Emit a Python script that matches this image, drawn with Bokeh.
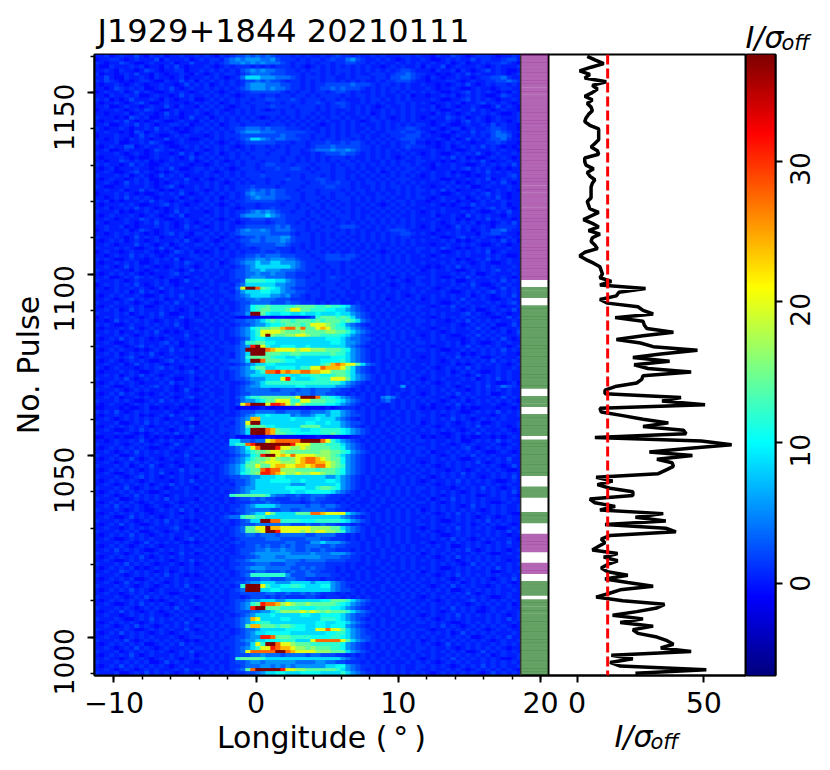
from math import pi

import numpy as np
from bokeh.embed import file_html
from bokeh.layouts import column, row
from bokeh.models import FixedTicker, Label, LinearColorMapper, Range1d, Span
from bokeh.plotting import figure
from bokeh.resources import INLINE

# one letter per cell, value of each letter below
level_chars = "abcdefghijklmnopqr"
level_values = [-1, -0.6, 0.3, 1.1, 2.2, 3.8, 5.5, 8.5, 10.5, 12, 14, 16.5, 20, 24, 27.5, 31, 34, 38]

# top row is pulse 1160, last row pulse 990: off-pulse left, on-pulse window, off-pulse right
cells = [
"ccdbcdccecbdcdbccdccd cdcbdcdeefefefedddcdcdccdcdeddcdccdcdcccddcd ccbdccedcbcdddcbccdc",
"bccddcbcdcccebdcccdbc dcddcefgfgggffgedddcdcddcdeddfgedccdcdcbcdcc dcbbcdcdccecddccdeec",
"dcbccedcbbcdcccdbccec ccdcdeffgfgfgfffedcddcdcddcddeeddcdcdccdcdcd ccdccdbcdbccdcddedcb",
"cbbdcccdcdbccbdcecbcc cdcbcdcdddcdcdcdddcdcbcdcdcdcdcdcdccbcdcdccd bdccebcdcccdcbcdcccd",
"ccdcbdccbcedcbccddbcc dcdcdcdcefgfgffeeddcdcddcdcdddcdcdcdcdcdeedc ccbdccdbdcbcdecdcbbc",
"dbccbcdceccbdcbccdcbd cbcdcddcdeffffeeedddcdcdcdcdcdcdccdddcdeefed dccbcbcdcecdcccdcbcd",
"ccecbbdccdcbdccbcdbcc cdcdcbcdfhhhgggfffedcdddcddccdcdddcddceeffed cbdcbccdccbcddeefdcc",
"dcedcbcbcddcbbdccecdb dcdcdcdcdeefefeedcddcdcdcddcdcdcdccdcddeeedc cbcccddcbcdccddeefed",
"cbccdcbcdcbccdccbcecd cdbcdcdcdfgggfffeeddcdcddeeeeefeeedcddcdcdcc dccbcbcdcecbcdcddcdc",
"ccbcedcdcdbbcdcecbcdc cdcdcdcdefgggfgffeddcdcdeefefeeedcdcdcddcdcc cdcbccdcbbcdccbcddcc",
"bcdccdbcecdcbbcdcdcbc dcdcbcdcddeeeeeedcdcddcddcdeedcdccdcdcdcdcdc dcdcbbccdecdcdcbcbdc",
"ccbdccdcdbbcdccbcecdc cdcdcdcbcdddcddcddcddcdcddddcdcddcdcdccdcdbc cbccdcdbcdcdcbbcedcc",
"dcdbcbcecccdcbdcbccdb bcdcdcdcddcddeedddedcdddcddcdcccdcddcdcdcdcc ccdcbbccdecdcdcbccdc",
"cbccdcbcdecbbcdcccbcd cdcdbcdcdcdddcddcdddcddedcdeedccdcdcdccddcdc dcbccdcdbccdecdcdcbc",
"ccdbbcdccbcdccecbdccb dcdcdcbcddcdddedddcddddcdcddedcdcdcbcdccdcdc ccdbcdcbccdcbbcecdcb",
"bcccdcbcdcedcbbcdcccd cdcdcbcdcdcdcbcdcddcdddcdcdccdcdcdccdcdcdcdc dcdcbbcdccecdcbcdccb",
"ccbcccdbcdccbcecdbccd cbcdcdcdcdcdddddcddcddcdccdcdccdcdbcdcdcdcdc ccbdcdcbcdccdcdcbbcd",
"dcccbcbedcdbbcdccbcec cdbcdcdcdcdcbcdcdcdcdcdcdcddcdccdcdcdcbcdcdc bcdccedcdbcdcbcdcccd",
"cbccdcecbcbcdcbbcdccb dcdcdcdcddcdddcdcdcdcdcdcdccdcdcbcddcdccdcdc ccbccdcbdecdcbcdcbcd",
"ccdbbcdcecdcbccddcdbc cdcdbcddcddddcdddcdcdcdcbcdcdcdcdccdcdcdcdcd dcbcdcbbcdccdcecdccb",
"dcbccdcbccdcecdcbcbcd dcdcdcdeefffefeeedddcdccdcdcdcdccdcdcdcddeed ccdcbcddbcdccdeedccb",
"ccdccbcbedbcdccdcbbcd cdcdcdcefgggfffeeeeeeddcdcdcdcdcdcdccdddedde dcbccdbcdcecddefedcc",
"bcccdccbcecdcbbcdcdcc cbcdcdddeeeeeeeefeedddcddcdcdcddcdccdcdddeee cdccbbcdccdcdceffecb",
"ccbcdcbdcdcbcceccdcbb cdcdcdcdefhhgfeffeeeddcdcddcddcdcdcdcdcdeeed dccdcbdbcecdcdeefdcc",
"dcccdbbccdcedcbbcdccc dcdcbcdcdeeeeeedddcddcdddeddedeedcdcdcdcddec cbcbcdcdccbccddedccb",
"cbcdcceebcdccdcbbcdcd cdcdcdcbcdcddcdcdcdddcdeeefeeeeeddcdccdcdedd dccbcdbcdcdcecdcbcbc",
"ccdbbcdcccbcedcdcbccd cbcdcdcdcdcdddcddcddcdefffgffgfeddcdcdcdcdcc ccdccdcbbcdcccdcdccb",
"dcccdcbcdcbcdccbcecdb cdcdbcdcdcdddcdddcddccdcdeeefeedcdcdcdccdcdc bcdcbbcdcdcecbcdccdc",
"cbcccdcbcbbcdccdcbcec dcdcdcdcddcdddddcddcdcdcdcdddcdccdcdcdcbcdcd ccdcdcecdbcbbcdcdcbc",
"ccbccedcdcdbcbcdcccdb cdcdcbcdcdddcdddcddcdcdcdcdcddcdcdccdcdcdccd dcccbcbcdcdcecbccdcc",
"dcdccbcecdcbbcdccdcbc cbcdcdcdcddcdeedddcdddcdddcdcddcdcdcdcdcddcd ccbdccdccbbcdcdcdcec",
"cbcdbcccdccbcdcecbbcd dcdcdcbcdddcdddeddeedcdcddcddcdcdccdcdcdcddc dcbcccdcdecdcdcbcbcc",
"ccdcbbcdecdcbcbcdcccd cdcbcdcdcdddcdddddddddcdddcddccdcdcdbcdcddcd ccdccdbcbbcdcecdcdcc",
"dcccdcdbcdcbcecdcdbcc cdcdcdcdcdddeddddcddcdddcdcddcdcdcdcdcdcdcdc bcdccdcdcbcbcdcccdec",
"cbcdccbcdcdbbcdcccecb dcbcdcdcdcdddcdddeddcddeedcddcdccdcdcdcdddcc ccdcbbcccdcdcebcdcdc",
"ccdcbcecdcdcbcbcdcdcc cdcdcbcdcdcddcddcddddcddeddeddcdcddcdcdcdcdc dcccdcdbcbcdccdcecbc",
"dcbbccdcccdcbcdecbccd cdcdcdcdddeddddcddddcddddeedddcdccdcdcddcdcd ccbccdcdcdbbcdcccdcc",
"ccdccdbccecdcbcbcdccd cbcdcdcddefefefeeddcdddcddddcdcddcdcdccdcdcd dcdcecdbcccdcbcdcdcb",
"bcccdcdcbcbbcdcdcecbc dcdcdcdcdfgffefeedddcddcddcddcdcdccdcdcdcdcd ccdcbbcdccdcdecdcbcc",
"ccbcdcecdcdcbcccdbcdc cdcdbcdcdefgfffeeeddcdddcdcdddcdcdcddcdccdcd dcbcdcccdbcdcdcecbcc",
"dcdbcbcccdcecdcbcdccb cdcdcdcddeeeeeeddcddcddcdcdcddcdcdcdcdcddcdc cbccdcdbccbcdcdcdccc",
"cbcccdcdcbbccdecdcbcc dcdcbcdcdddcddddcddcdcddcdcdcdccdcdcbcdcdcdc ccdcbcbcdcecdcccdbcc",
"ccdbccdcecdcbcbcdcdcd cdcdcdcbcddcddeddddcddcdcddcddcdcdcdcdcdcdcc dcccdcccbbcdcdecdcbc",
"dcccdbcbccdcdcbcecdcc cbcdcdcddefgfgfeddcddcdcdcddcdcdccdcdcdcdcdc bcdcdcccdcdcbbcdcecc",
"cbcdcccdcbcdcbcdcebcc cdcdcdcdfgggghgfeddddcddcdcdddcdcdcdcdcdccdc ccdbccdcbecdcdccbdcc",
"ccdcbcdccedcdcbbccdcc dcdcbcdcddeeedeeedddcdcddcdcddcdcddcdcdcdcdc dccdccdbcbcdcecdccbc",
"dcbcccdcbcdcecdcbcdcb cdcdcdcbcddddcdeeddcdcdcdddcdcdcdcdcdcdcdcdc ccdcbcdcdcdbccbcdcec",
"ccdccdbcbcccdcdcbcecd cbcdcdcddeeeeeefefdddcddcdcdeeedcdcdcdcddcdc bcdccbcecdccdcbddddc",
"bcdcccdbcedcbcdcccdcc cdcdcdcefgffgfefffeddcdcdddcdcdcdccdcdeeedcc ccdbcccdcdbcdceefdcc",
"ccbcdcdcdcbcbcdecdcbd dcdcdcdeffffffeeeedcddcdcdcddcdcdcdcdcddeedc dcbccdcdcccbddeedccb",
"dcccdcbcecdcdbcccdbcc cdcdbcdcdeefefffggedddcdcdcdcdccdcdcdcdcddcc ccdcbbcdecdcdccbcdcc",
"cbcdcdbcdcbcdcccdcecb cdcbcdcdeeffefffgfedddcdcddcdcdcdcdcdcdcdcdc dcccdcdbcbcdccdcecdb",
"ccdcbcccecdcbcdbcdccd dcdcdcdcdeeeeeeffeddcdcdcdcdcdcdcdcdccdcdcdc ccbccdccdcdcbbcdcbcc",
"dcccdcdcbbcdcecdbcdcc cdcdbcdcddcdeeedddcdcdcddcdcdcdccdcdcdcdcdcd dcdcedcbcbcdcdcccdcc",
"bcdccbcdccdcbcbcedcdb cbcdcdcdcdddeddeddcddcddcdcdccdcdcdcbcdcdccd ccdcbbcdcdcdcebcdccc",
"ccbcdccecdcdcbcdcccdd cdcdcdcddeefefffeeedddcddeeedeedcdcdcdcdcdcc dcbcdccdcdcccdcdcbbc",
"dcdcbbcdccbcdcdcebccd dcdcdcdeeffggfgggffedddcdeeeeedcdcddcdcdcdcc ccdcccdbcbcdcecdcdcc",
"cbccdcdcdbbcdcccdcedc cdcdbcdefgghgghhgggfedddcdddcdcdcdcdcdcdcdcc dcccdcdcdcbcdcbbcdcc",
"ccdcbcecdcdcbcbcdcdcb cdcdcdcdefghhhhhhhgfeddcdcddcddcdcdcdcdcdcdc cbcbcdcecdccdcdcccdc",
"dcccdccbdcbcdccdcbcec dcdcdcdeefgghgggfffeedddcdcdcdcdcdcdcdcdcdcd bcdccdcbbcdcdcdecdcc",
"cbcdcdcdcbcbcccdecdcc cdccdcdeeffgffgffeedddcdcdcdcdcddcdcdcdcdcdc ccdcccdcdcdbbcdcccdc",
"ccdbbcdcedcdcbcdccbcd cdcdccdeefgggffffeeddcddcdeddcdccddcdcbcdccd dcdcbbcdcecdcdccdcbc",
"dcccdcbcdcccdcdbbcecc dcdcccddejjjjiihhgfeedddcdddcdccdcdccdcdcbcd ccdcdcdbbcdcccdcecdc",
"bcdcdcdcecbcdcdcbcccd ccdcddcefhhhhhhggffeeddcdddcddccdcdcdcbcdccd dcdcccdcdcecbbcdcdcc",
"ccbcdccdcdcbcecdcdccb cdccdcdfmrrokjihgfedddcdcdddcdcccdcdcdccdcdc cdcbcdcdccdcdcbcecdc",
"dcccdcdbcecdcbcdcccdc dcdcddceghhhiihhgffeedddcdcddcdcdcdccdcdccdc dcccdcbbcdcdcdecdcdc",
"cbcdcdccdcbbcdcdcecdc cdcccddefghhhhggfgeedcddcddcdcccdcdcdccdcbcd ccdcdcdccdbcdcbcdcec",
"ccdcbcdecdcdcdbccdccd ccdcdcdeeffgfffeeedddcdccdcdcdccdcdcdbcdcdcd bcdcccdcecdcdcbbcdcc",
"dcccdcdcbcdcbcdcecdcb dcdcdccdeeffffeeefeedddcdcddcccdcdcdcdccdcdc ccdcbbcdcdcccdcdcdec",
"cbcdcccdcdbbcdcdcccdc cdcdcdcdefijjkjjjjjkkkkjjkjjihfedcdccdcdcdcd dcbcdcecdcdcdcdcbccd",
"ccdcdbcecdcccdcdcbcdc dccdcdcdefijkkjjjkmmkkjjjiihhgfedcdcdcdccdcd ccdcccdcbcdbbcdcdcec",
"dcccdcdbcdcdcecbbccdb cdccdcdeegrrkihhiihhihhihhhihhgfedcdcdccdcdc dcdcdcccdecdcbcdcbcc",
"bcdcdccdcbcdcdcccecdc cdcdcdcbabbabbabbabbbcejkkkjkjhfedcdcdcdcccd ccbcdcdcdcdcccbbcecd",
"ccbcecdcdcdcbcdcdcbcd dcdcdcdeeffghjkjkkjkkkjkjkkkjkjhfedcdcdccdcd dcdccbcdcecdcdcdccdc",
"dcdcbbcdccdcdcdcecbcc cdcccdcdeefgghiijkkkjkmmmlkjigfedcdcdcdcdccd ccdcccdcbcdcdcdbbcec",
"cbcccdcecbcdcdcccdbcd ccdcdcdefgijkkllnoolokkmnmkjjhgfedcdcdcdcdcc dcbcdcdccdcecdbcdccd",
"ccdcdbccdcdcecbcbcdcc dcdcdcdefghjmmmmlkkklkkkkllkkjhgfedcdcdcdcdc ccdcbcdcccdcdcdcdbce",
"dcccdcdcbcdcdcdcccecb cdccdcdefghjmrlkkllmmlkkjjjjihgfedcdccdcdcdc bcdcdcbbcdcecdcdcccd",
"cbcdcecdcdcbcbcdccdcc dcdcdccdefhiihhhhhhhhhhhhiiihgffeedcdcdcdccd ccdcdcccbcdcdcdcecbc",
"ccdcbbcdcdcccdecdbcdc cdcdcdcdfjjkkiihhhhhhhhhhhiihggfedcdcdcdcdcd dcdccdcdbcdcbbcdcdcc",
"dcccdcbcdecdcdcdcbccb ccdcdddefgprmjhhiiihhihhhhhhhgfedcdccdccdcdc ccbccdcdcecdcdcdcbcd",
"cbcdcdccbcbcdccecdcdc dcdccddefrrrronmmmmlmmlllkkkjigfedcdcdcdcdcd dcdcbbccdcdcdcdcecdc",
"ccdcdbcdcdcecbcdcccdc cdcdcdcefhrrrkkkjjkkjjjjjjkjjhgfedcdcdcdcdcc ccdcdccdbcbcdcdcdccb",
"dcccdcdecbcdcdccdcbcb dcdcddcefjkkkkjiihhihhhhhhiiihgfedcdcdcdcdcc bcdccdcecdcdbbcdcccd",
"cbcdcbcdcdcbbcdecdcdc ccdcddeefhrrokkkjiihhhhhiiiijhgfedcdccdcdcdc ccdcbcdcdcdcdcecdcdc",
"ccdccdbcecdcdcbcccdcd cdcdcdcdefghhiihhhhhhhhhjknonmmkhfedcdcdcdcc dcdcccdbcbcdcdcdcbcd",
"dcbcdcccbcdcdecdcbccb dcdcddeefgikkhhiiiihjjmmonnnmkhfedcdcdcdcdcc cdcbcdcdcecdcccdccdc",
"cbcccdcdcbbcdcccdcdec cdccdcdefgghjoopnonnoonnmmkkkjhfedcdccdcdcdc dcdccdbcdcdcbbcdcdcc",
"ccdcdbcdcecdcbcdcccdc dcdcdcdefghhhhhhhihhiijjiijkkjhgfedcdcdcdccd ccdccdcdcbcecdcdcdcc",
"dcccdcecbcdcdcdcbbcdb ccdcdcdeefggghhhmpihhhijjjmmmkhgfedcdcdcdcdc bcdcdcccdcdbcdcecdcc",
"cbcdcdcdcbcccdcecdcdc cdcdcdccdefghjjjjjjjjjjjjjjjhgfedcdcdcdccdcd cdcbcdcdcccdcdcbbcdb",
"ccdcbbcdcdcdecdcbccdc dcdcddcdefgghhhhhhhiihhhhhhggfedcdcdcdcdgcdc dcdccdcbcdcdcecdfedc",
"dcccdcbcdcdcccdcbcecb cdcccdcdefffffeefffeffefffeeddcdcdcdcdccdcdc ccdcdcdccbcdcdcdcdcc",
"cbcdcecdcbcbcdcdccdcc dcdccdcdeeffffffffefffeffeeddcdcdcdccdcdccdc bcdccdcecdcdcdbbcdcc",
"ccdcdbccdcdcccdcbcdec ccdcddcefhjjkkkkkkkmrrrojjihgfeddcdcfgfdcdcd cdccdcbcdcdcccdcecdc",
"dcccdcdcbbcdcecdcdccb cdcdcdcdfgghikkmmmjjmmkkkjjihgfedcdcefdcdcdc dcdcbcdcdbcdcdcdcdcb",
"cbcdccbcdcdcdcccdcbdc dcdcddcemorrrmppomkmkjjjjiihgfedcdcdccdcdcdc cdbccdcecdcdccdcbcdc",
"bbcccbcbbcdbbcbccbcbb cdcccdcabbabcbabbbbbbabbbcbcdddcdcdcccdcdcdc bcbccbcdbcbbcccbccbc",
"dcdcecbcdcdcccdcbcdcc dcdccdcdeeeffffeefffeefffghhgfeddcdcdccdcdcd ccdcdcdcbbcdcdcecdcd",
"cbccdcdcdbcbcdcecdccb ccdcdccdefghhihhhhfgffghhghhgfeedcdcdcdccdcd dcdcbcdcdcdcccbcdccd",
"ccdcbcdcdcdcdcbcccdec cdcdcddefgnnhhhhhhihhhhihhhgfedcdcdccdcdcdcd ccdcdcecdcbcdcdcdccc",
"dcccdbbcdcecdcdcdcbcb dcdcddcefmrrhhhhhhhhhiihhihhgfeedcdcdccdcdcd bcdccdcbcdcdbbcdcccd",
"cbcdcdcdcdcbcccdcdcec cdccdcdefkkkkiihhhhhkkkkhhhhgfedcdccdcdcdcdc cdcbcdcccdcecdcdcbcd",
"ccdcbbcdcecdcdcbcdcdc ccdcdddefhrrronkjjiihhiijjjjihgfedcdcdcdcdcc dcdcdcdcbcdcdcccdcbc",
"dcccdcdcbcbcdcdcecdcb dcdcdcdefhrrronkkjjiiiiijjkjihgfedcdccdcdcdc ccdcbbcdcdcecdcdcdcc",
"bbccbcbbcdbcbcbcbbcbd cdcdccdbabbabcbabbbbabbcbabbbbccdcdcdccdcdcd bcbccbcdbcbbccbcbcdc",
"ccbcdccdcecbcdcdcdccd dcdcdchhffeffmnooooorrrromjhgfedcdcdcdcdcdcd dcdccdcdbbcdcdcecdcc",
"dcccdcbcdcdcdcbcecbcd cdcdcdhjjoprrrrrrrpmmmkkkjjjhgfedcdcdcdcdcdc ccdcdcbcdcdcccdcbcdc",
"cbcdcdcdcdcbbccdcccdc dcdcddefgimorrrpmmllmlkkkkjjigfedcdcdcdccdcd dcdcccdcdecbcdcdcdcc",
"ccdcbcdcecdcdcdcbcdcd cdcdcdefghjkklmmlkkkkkkkllkkjigfedcdcdcdcdcd cdbccdcdcdcdcbbcdcbc",
"dcccdbbcdcdcccdcdcecb ccdcdcdefgijprrmnmommmmlllkjhgfedcdcdcdcdccd dcdcbcdcdcecdcdcccdc",
"cbcdcdcecbcdcbcdccdcd dcdcddefghjkklmlkklmnoonmlkkigfedcdcdcdcdcdc ccdcdcdcbbcdcdcdcecc",
"ccdcbcdcdcdcdcccbcdcc cdcdcdefgjkklmmmlllmnoonnmlkigfedcdcdcdcdcdc bcdccdcdcdcecbcdcdcc",
"dcccdcdbcdcecbcdcbcdb ccdcdefghkkmkkmnnmmnnmnoomlkjgfedcdccdcdcdcd cdcbcdcdcdccdcdcbcec",
"cbcdcdcdcbcdcdcccecdd dcdcdefghjkkopoolllkkkkjkkkjigfedcdcdcdcccdc dcdccbcdcbcdcdcdcbbc",
"ccdcbbcdcdcdcecbcdcdc cdccdefgijklpponmllmllmmlkkjigfedcdcdcdccdcd ccdcdcdcecdcccdcdcdc",
"dcccdcbcdecdcbcdcdccb dcdcddeeffgghhhiihhhhhhhhgghgfedcdcdcdccdcdc dcbcdcdcdcdcbcdcdcec",
"cbcdcdcdcbcdcccbcdcec ccdcdcdeefghhhiiiihhihhhhiihgfedcdccdcdcdcdc bcdccdcecdcdcdcbbcdc",
"ccdcbcdcdcdbcdcecdccd cdcdcdceefghhhhhhhggghhhhhhigfedcdcdccdcdcdc cdcbcdcdcdcccdcdcdcc",
"dcccdcecbcdcdcbcdcdcb dcdcdddefgghhhhhhiiiihhjkkjigfedcdcdcdcdcdcd dcdcccbcdcdcecdcbcdc",
"cbcdcdcdcdcbbcdcccdcc ccdcdcdefghhhhhhhhihhiiiiihgfedcdcdccdcdcdcd ccdcdcdcbcdcdcdcdcec",
"ccdcbcdcecdcdcbcdcdcd cdcdcdjkkkkkkjgffeefeefffedddcdcdccdcdcdcdcc dcdcbcdcdcdbbcdcdccb",
"dcccdbbcdcdcdcecdcccb dcdccdcdeefefeedddeedefeedddcdcdccdcdcdcdcdc cdbcdcecdcdcdcccdcdc",
"cbcdcdcdcbcdcccdcbcdc cdcdcdcdddeeefeeddddcdeedddcdcdcccdcdccdcdcd dcdcbcdcdcdcdcbbcdcc",
"ccdcecdcdcbcdcbcdcdcd ccdcdcddefghhhhgfffffeffeffeddcdcdcdccdcdcdc ccdcdcdcbcecdcdcdccd",
"dcccdcbcdcbbcdcdcecdb dcdcdcdeefffffeeffeefffffeeddcdcdcdccdcdcdcd bcdcdcdcdcdcbcdcdccd",
"cbcdcdcdcdcbcccdcbcdc cdcdcdcdefghhmkhhhhkkkoonmmmmhgfedcdcdcdcdcd cdcbcdcecdcdccdcdcbb",
"ccdcbbcecdcdcbcdcdcdc ccdcdeffjkkjjhhhhhhhhhhhhhhhgfedcdcdcdcdcdcc dcdccdcdcdcbcdcbcdcc",
"dcccdcdcbcdcdcecdcbcb dcdcddcdefhhrroojjjjiiijjjjjihgfedcdcdcdcdcd ccdcbbcdcdcdcecdcdcc",
"cbcdcecdcbbcdcdcdccdc cdcdcdcdeeefffffffeeefeefeedddcdcdccdcdcdccd dcdcdcdccdbcdcdcdcbc",
"ccdccbcdcdcdcccdecbcd ccdcdcdefkkmmrnnmmmmmmllllkkhgfedcdccdcdcdcc bcdccdcecdcdcdcbbcdc",
"dcccdcdcdbbcdcbcdcdcb dcdcdcdefkklmrrpmmmmlmlmmllkjgfedcdcdccdcdcd cdcbcdcdcdcccdcdcecd",
"cbcdcdcecdcbcdcdccdcd cdcdccdeeffefffefffffeeffffddcdcdcdccdcdcdcc dcdcbbcdcdcdcdcdcbcc",
"ccdcbbcdcdcdcccdbcdec dcdccdcdeeeeefffeeeeefffeedddcdcdccdcdcdcdcc ccdcdcecdcbcdcdccdcb",
"dcccdcdcbcecdcdcdcbcb ccdcdcdedeeeeeeeeffeeegghgggfeddcdcdcdcdcdcc dcbccdcdcdcdcbcdcecc",
"cbcdcdcbcdcdcbcccdcdc cdcdcdcddeefefeefefeefffeefeedddcdcdcdccdcdc cdcdcdbbcdcdcdcdcdcc",
"ccdcecdcdcbbcdcdcdccd dcdcdccdeeeffgffgffeefeefeedddcdcdccdcdcdcdc dcdccdcdcecbcdcdcbcd",
"dcccdcbcdcdcdccbcecdb cdcdcdcdeefgggggggffffgfffgggfeddcdcdccdcdcd bcdcdcdcccdcdcbbcdcc",
"cbcdcdcdcecbcdcdcdccc ccdcdcdddeefgggffgggggggffffeeddcdccdcdcdcdc cdcbcdcecdcdcdcdcccd",
"ccdcbbcdcdcdcdcbcdcec dcdcdcdeefgggggggfffeffffeeeedddcdcdccdcdcdc dcdccdcbcdcdcdcdcbcc",
"dcccdcecdcdcbccdcbcdb cdcdccddeeefffeeeffeeeeeeddddcdccdcdcdccdcdc ccdcdcdcbcecdcdccdcd",
"cbcdcdcdbcbcdcdccdcdc ccdcdcdeefgggfffffeefefeeddcdcdcdcccdcdcdcdc dcdcbbcdcdcdcdcecdcc",
"ccdccedcdcdcbcdbcdcdc dcdcddcdeeeffeeefefeefeedddcdccdcdcdcdcccdcd bcdccdcdcdcccdbbcdcd",
"dcccdcbcdcdcdcecdcbcb cdcdcdcdefjjjjjjjgeeeffeeeddcdcdcdccdcdcdcdc cdcbcdcecdcdcdcdccdc",
"cbcdcdcdbbcdcdccdcdcc ccdcdcdddeeeffeeeffeedddcddcdccdcdcdcdcdccdc dcdcdcbcdcdcdcbcdcec",
"ccdcbcecdcdcdcbcdcdcd dcdcdddeefgghhhggghhhhghhhgfeddcdcdccdcdcdcd ccdccdcdbcdcdcdcdcbc",
"dcccdcdcbcdcbcdcdcecb cdcdcdcdjrrrmjhhiijjihhhiigfedcdcdccdcdcdcdc dcbcdcecdcdccbcdcdcc",
"cbcdcdcecdcbcdcccdcdc ccdcdcdefrrrhhiihhhhhhhhhhgfeedcdcdcdccdcdcd cdcdcdbbcdcdcdcdccdc",
"ccdccbcdcdcdcdcbbcdcd dcdcdcddeeeeeffeefeefefedddcdcdcdccdcdccdcdc dcdccdcdcecbcdcdcdcc",
"dcccdcbcdcecdcdcdcccb cdcdccddcdeeedededdddeedcdddcdcdcdccdcdcdcdc bcdcdcdcdcdcdcbbcdcc",
"cbcdcdcdcdcbcbcdcdcec ccdcdcdeefgghhhgghhhhhhhiikkkjhgfeddcdcdcdcc cdcbcdcccdecdcdcdcdc",
"ccdcbbcdcecdcdcbcdccd dcdcdcdefgjkpoonlmlkklkkkkkjihgfedcdcdccdcdc dcdccdcdcbcdcdcdcdbc",
"dcccdcdcbcdcdcdcecdcb cdcdcddefgprrkkkjjjjiiijjjiihgfedcdcdcdccdcd ccdcdcecdcdcbcdccdcc",
"cbcdcecdcbcdcbcdcdccc ccdcdcdeeeffgghjllllmlmlklkkkjhgfedcdcdcdcdc dcdcbcdcdcdbbcdcdccd",
"ccdccbcdcdcdccbcdcdcd dcdccdcdefghhhihhhhhiihhiiiihgfeedcdccdcdcdc bcdccdcecdcdcdcdcbcd",
"dcccdcbbcdcecdcdcdcdb cdcdcddefgnmhhhhiihhhhhhjjjihgfedcdcdccdcdcd cdcbcdcdcdcccdcdcecd",
"cbcdcdcdcbcdcdccdcecc ccdcdddefghijjhhhhhhhhhiihhiihgfeddcdcdcdccd dcdcdcbbcdcdcdcdccdc",
"ccdcbcdcecdcbcdcdcdcd dcdcdcdefknnkkkjkkjiihhiihiiigfedcdcdcdcccdc ccdcecdcbcdcdcdcdcbc",
"dcccdcdcbbcdcdcdccecb cdcdcdcdeffghhhhhiiiihhmmommkhgfedcdcdcdcdcd dcbccdcdcdcdcbcdcdcc",
"cbcdcecdcdcbcdcbcdcdc ccdcddcdefghhiiiiihhhhhhhiijjhgfeddcdcdcdcdc cdcdcdbcecdcdcdcccdc",
"ccdccbcdcdcdcccdcbcdd dcdcdcdeefggppokkkjjjjiiiijjihgfeedcdcdcdcdc dcdccdcdcdbbcdcdcecc",
"dcccdcecbcdcdcdcdcbcb cdcdcddefgghhiiijjjhhhmooooomkhgfeddcdcdcdcd bcdcdcdcdcdcdcbcdccd",
"cbcdcdcdcdbbcdcdcecdc ccdcdddeefhmjrrommlkkkjjjjjjigfedcdcdcdccdcd cdcbcecdcdcdccdcdcdc",
"ccdcbcdcecdcbcdcccdcd dcdcdcdefghjmmponnmllklkkkjjigfedcdcdcdcdccd dcdccdcbcdcdcdcdcbcc",
"dcccdbcdcdcdcdcbcdcec cdcdcddefmooooorronmmmmlllkkkhgfedcdcdcdcdcd ccdcdcdcdbbcecdcdcdc",
"cbcdcdcecbcdcccdcdcdb ccdcdcdeeeffgfffeffffeffeeeddcdcdcdccdcdccdc dcdccdcdcdcdcdbcdccd",
"ccdccbcdcdcbcdcdcbcdc dcdcdcdjkkkkjhhhhhhhhhhhhhhhgfeddcdcdcdcdcdc bcdcdcecdcdcdcdcbbcd",
"dcccdcdcdcdbbcecdcdcb cdcdccdeefggfggggggffffggffeedddcdcdcdcccdcd cdcbcdcdcdccdcdcdcdc",
"cbcdcecdcdcdcdcbcdccc ccdcdcddefffggfgfgfgggggghhiigfedddcdcdcdccd dcdcdcbcdcdcecdcdccd",
"ccdcbcdcbcdcdcccdcecd dcdcdcdefkorrrrrpmmllkkkkkkjhgfedcdcdcdcdccd ccdccdcdcbcdcdcdcdcb",
"dcccdbbcdcecdcdcbcdcb cdcdcdcddeefghhiihhhiiiihhhhjhgfeddcdcdcdcdc dcbcdcdcdcdcbcecdcdc",
]

# mean profile of each pulse, from pulse 1160 down to pulse 990
profile = [
    4, 7, 10.5, 5.5, 1, 5, 3, 11.5, 6, 8, 6, 3, 6, 4, 5.5, 6, 4.5, 3.5, 3, 5,
    8.5, 8.5, 8.5, 8.5, 7, 5.5, 8, 8.5, 3, 3, 3.5, 6.5, 4, 5, 7, 6, 5.5, 5.5, 5.5, 5.5,
    4, 4.5, 5, 8.5, 5.5, 2.5, 6, 8.5, 4.5, 9, 6, 5.5, 7, 8, 3, 1, 3.5, 6.5, 9, 9.5,
    10, 9, 13.5, 9, 27, 16.5, 15.5, 9, 12, 24, 26, 30, 15, 26, 26.5, 27.5, 38, 26, 15.5, 25,
    30, 47.5, 33, 22, 36.5, 22.5, 28, 45, 26, 25.5, 23.5, 15, 11, 11, 41, 33.5, 50.5, 9, 9.5, 18,
    26, 36, 26, 42, 43, 7, 49, 61, 44.5, 28.5, 45.5, 31.5, 37.5, 38, 35, 32, 7.5, 14, 8, 13,
    22, 22, 5, 7, 15, 9, 34, 23, 35, 11, 35, 39, 13, 9.5, 11, 8.5, 6, 16, 10.5, 16,
    12, 9.5, 12, 20, 11, 20, 30, 17, 12.5, 7.5, 18, 34.5, 31.5, 23.5, 14, 26, 17, 30, 22, 24,
    31.5, 35.5, 38, 33, 45, 13.5, 22, 13, 17, 51, 23,
]
first_pulse = 1160
threshold = 12.05

# pulse flags next to the image
state_first = [1099, 1094, 1069, 1064, 1056, 1045, 1039, 1032, 1024, 1018, 1012, 989]
state_last = [1161, 1096, 1091, 1066, 1061, 1054, 1041, 1034, 1028, 1020, 1015, 1010]
state_color = ["purple", "darkgreen", "darkgreen", "darkgreen", "darkgreen", "darkgreen",
               "darkgreen", "darkgreen", "purple", "purple", "darkgreen", "darkgreen"]

lon_ticks = [-10, 0, 10, 20]
lon_minor = list(range(-10, 21, 2))
pulse_ticks = [1000, 1050, 1100, 1150]
pulse_minor = list(range(990, 1161, 10))
prof_ticks = [0, 50]
cbar_ticks = [0, 10, 20, 30]

FONT = "DejaVu Sans"
TICK_SIZE = "28.5px"
ROT_TICK_SIZE = "26.5px"
LABEL_SIZE = "30px"
VMIN, VMAX = -6.51, 37.56
PMIN, PMAX = 989.4, 1160.5
HEIGHT = 760
TOP, BOTTOM = 54, 675


def jet(n=256):
    colors = []
    for x in np.linspace(0, 1, n):
        r = np.clip(min(4 * x - 1.5, -4 * x + 4.5), 0, 1)
        g = np.clip(min(4 * x - 0.5, -4 * x + 3.5), 0, 1)
        b = np.clip(min(4 * x + 0.5, -4 * x + 2.5), 0, 1)
        colors.append("#%02x%02x%02x" % (int(r * 255), int(g * 255), int(b * 255)))
    return colors


def style_axis(ax):
    ax.axis_line_width = 2
    ax.major_tick_line_width = 2
    ax.minor_tick_line_width = 1.5
    ax.major_tick_out = 7
    ax.major_tick_in = 0
    ax.minor_tick_out = 4
    ax.minor_tick_in = 0
    ax.major_label_text_font = FONT
    ax.major_label_text_font_size = TICK_SIZE
    ax.major_label_text_color = "black"
    ax.axis_label_text_font = FONT
    ax.axis_label_text_font_size = LABEL_SIZE
    ax.axis_label_text_font_style = "normal"
    ax.axis_label_text_color = "black"


def style_fig(fig):
    fig.grid.visible = False
    fig.outline_line_color = "black"
    fig.outline_line_width = 2
    fig.outline_line_alpha = 1
    fig.border_fill_color = None


def frame_y(v, low, high):
    # pixel height from the page bottom of a value on one of the vertical scales
    return HEIGHT - BOTTOM + (v - low) / (high - low) * (BOTTOM - TOP)


def rotated_ticks(fig, ticks, x, low, high):
    for t in ticks:
        fig.add_layout(Label(x=x, y=frame_y(t, low, high) + 9, x_units="screen", y_units="screen", text=str(t),
                             angle=pi / 2, text_align="right", text_baseline="middle",
                             text_font=FONT, text_font_size=ROT_TICK_SIZE, text_color="black"))


def sigma_label(fig, x, y):
    fig.add_layout(Label(x=x, y=y, x_units="screen", y_units="screen", text="I/σ", text_font=FONT,
                         text_baseline="alphabetic", text_font_style="italic", text_font_size=LABEL_SIZE,
                         text_color="black"))
    fig.add_layout(Label(x=x + 36, y=y - 5, x_units="screen", y_units="screen", text="off", text_font=FONT,
                         text_baseline="alphabetic", text_font_style="italic", text_font_size="21px",
                         text_color="black"))


mapper = LinearColorMapper(palette=jet(), low=VMIN, high=VMAX)
lookup = dict(zip(level_chars, level_values))
grid = []
for line in cells:
    left, window, right = line.split()
    text = left.ljust(21, "c")[:21] + window.ljust(44, "c")[:44] + right.ljust(20, "c")[:20]
    grid.append([lookup[c] for c in text])
grid = np.array(grid[::-1], dtype=float)
pulses = [first_pulse - i for i in range(len(profile))]
y_range = Range1d(PMIN, PMAX)

# main panel, the flags strip shares its longitude axis
p1 = figure(width=570, height=HEIGHT, x_range=Range1d(-11.37, 20.56), y_range=y_range,
            toolbar_location=None, output_backend="svg",
            min_border_left=94, min_border_right=22, min_border_top=TOP, min_border_bottom=HEIGHT - BOTTOM)
p1.image(image=[grid], x=-11.4, y=989.5, dw=30, dh=171, color_mapper=mapper)
for first, last, color in zip(state_first, state_last, state_color):
    for k in range(first, last + 1):
        p1.quad(left=18.6, right=20.56, bottom=k - 0.62, top=k + 0.44, fill_color=color, fill_alpha=0.6, line_color=None)
p1.add_layout(Span(location=18.6, dimension="height", line_color="#333333", line_width=1.5))
style_fig(p1)
style_axis(p1.xaxis[0])
style_axis(p1.yaxis[0])
p1.xaxis.ticker = FixedTicker(ticks=lon_ticks, minor_ticks=lon_minor)
p1.xaxis.major_label_overrides = {t: str(t).replace("-", "\u2212") for t in lon_ticks}
p1.xaxis.major_label_standoff = 9
p1.xaxis.axis_label = "Longitude (\u2009\u00b0\u2009)"
p1.xaxis.axis_label_standoff = 4
p1.yaxis.ticker = FixedTicker(ticks=pulse_ticks, minor_ticks=pulse_minor)
p1.yaxis.major_label_overrides = {t: "" for t in pulse_ticks}
p1.yaxis.axis_label = "No. Pulse"
p1.yaxis.axis_label_standoff = 42

# mean profile panel
p2 = figure(width=198, height=HEIGHT, x_range=Range1d(-11.3, 66.85), y_range=y_range, y_axis_location=None,
            toolbar_location=None, output_backend="svg", margin=(0, 0, 0, -22),
            min_border_left=0, min_border_right=0, min_border_top=TOP, min_border_bottom=HEIGHT - BOTTOM)
p2.line(profile, pulses, line_color="black", line_width=3.5)
p2.add_layout(Span(location=threshold, dimension="height", line_color="red", line_width=3, line_dash="10 4"))
style_fig(p2)
style_axis(p2.xaxis[0])
p2.xaxis.ticker = FixedTicker(ticks=prof_ticks, minor_ticks=[])
p2.xaxis.major_label_standoff = 9

# colour scale
levels = np.linspace(VMIN, VMAX, 256).reshape(256, 1)
p3 = figure(width=70, height=HEIGHT, x_range=Range1d(0, 1), y_range=Range1d(VMIN, VMAX),
            x_axis_location=None, y_axis_location="right", toolbar_location=None, output_backend="svg",
            min_border_left=0, min_border_right=41, min_border_top=TOP, min_border_bottom=HEIGHT - BOTTOM)
p3.image(image=[levels], x=0, y=VMIN, dw=1, dh=VMAX - VMIN, color_mapper=mapper)
style_fig(p3)
style_axis(p3.yaxis[0])
p3.yaxis.ticker = FixedTicker(ticks=cbar_ticks, minor_ticks=[])
p3.yaxis.major_label_overrides = {t: "" for t in cbar_ticks}

# labels are clipped to a frame, so the ones outside the panels go on a see-through figure over the page
p4 = figure(width=816, height=HEIGHT, x_range=Range1d(0, 816), y_range=Range1d(0, HEIGHT),
            x_axis_location=None, y_axis_location=None, toolbar_location=None, output_backend="svg",
            margin=(-HEIGHT, 0, 0, 0), min_border=0, background_fill_color=None, border_fill_color=None,
            outline_line_color=None)
p4.grid.visible = False
p4.add_layout(Label(x=97, y=HEIGHT - 30, x_units="screen", y_units="screen", text="J1929+1844 20210111",
                    text_baseline="alphabetic", text_font=FONT, text_font_size="32px", text_color="black"))
rotated_ticks(p4, pulse_ticks, 63, PMIN, PMAX)
rotated_ticks(p4, cbar_ticks, 799, VMIN, VMAX)
sigma_label(p4, 614, HEIGHT - 736)
sigma_label(p4, 745, HEIGHT - 37)

layout = column(row(p1, p2, p3, spacing=0), p4, spacing=0)
open("out.html", "w").write(file_html(layout, INLINE))
